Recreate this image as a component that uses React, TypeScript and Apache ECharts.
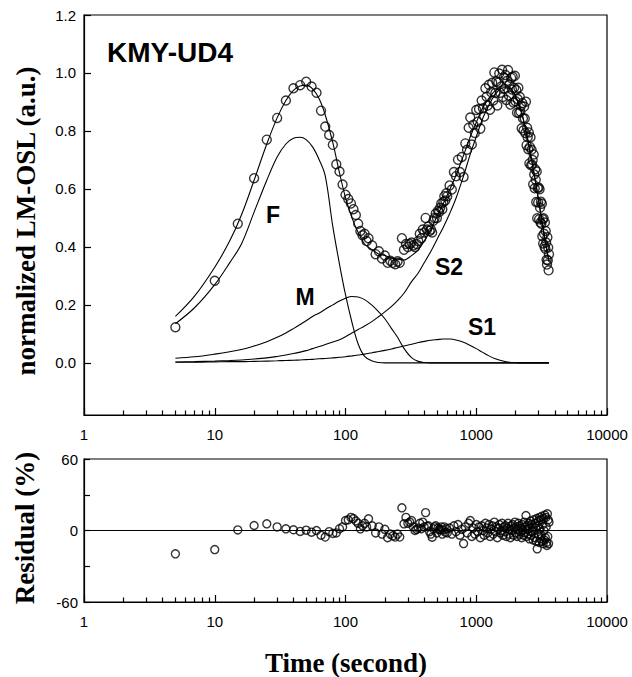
import { useEffect, useRef } from "react";
import * as echarts from "echarts";

// ---- measured LM-OSL data (time in s, normalized signal) ----
const obsTime = [
  5, 10, 15, 20, 25, 30, 35, 40, 45, 50, 55, 60, 65, 70, 75, 80, 85, 90, 95, 100,
  105, 110, 115, 120, 125, 130, 135, 140, 145, 150,
  160, 170, 180, 190, 200, 210, 220, 230, 240, 250, 260, 270, 280, 290, 300, 310, 320, 330, 340, 350,
  360, 370, 380, 390, 400, 410, 420, 430, 440, 450, 460, 470, 480, 490, 500, 510, 520, 530, 540, 550,
  560, 570, 580, 590, 600,
  625, 650, 675, 700, 725, 750, 775, 800, 825, 850, 875, 900, 925, 950, 975, 1000, 1025, 1050, 1075, 1100,
  1125, 1150, 1175, 1200, 1225, 1250, 1275, 1300, 1325, 1350, 1375, 1400, 1425, 1450, 1475, 1500, 1525, 1550, 1575, 1600,
  1625, 1650, 1675, 1700, 1725, 1750, 1775, 1800, 1825, 1850, 1875, 1900, 1925, 1950, 1975, 2000, 2025, 2050, 2075, 2100,
  2125, 2150, 2175, 2200, 2225, 2250, 2275, 2300, 2325, 2350, 2375, 2400, 2425, 2450, 2475, 2500, 2525, 2550, 2575, 2600,
  2625, 2650, 2675, 2700, 2725, 2750, 2775, 2800, 2825, 2850, 2875, 2900, 2925, 2950, 2975, 3000, 3025, 3050, 3075, 3100,
  3125, 3150, 3175, 3200, 3225, 3250, 3275, 3300, 3325, 3350, 3375, 3400, 3425, 3450, 3475, 3500, 3525, 3550, 3575, 3600,
];

const obsValue = [
  0.123, 0.283, 0.48, 0.637, 0.77, 0.845, 0.905, 0.947, 0.958, 0.97, 0.953, 0.932, 0.87, 0.815, 0.786, 0.752, 0.685, 0.66, 0.615, 0.58,
  0.565, 0.55, 0.53, 0.51, 0.48, 0.455, 0.44, 0.445, 0.42, 0.43,
  0.405, 0.375, 0.385, 0.36, 0.37, 0.345, 0.352, 0.345, 0.34, 0.35, 0.345, 0.43, 0.39, 0.41, 0.4, 0.41, 0.415, 0.405, 0.4, 0.41,
  0.42, 0.445, 0.43, 0.46, 0.45, 0.5, 0.46, 0.47, 0.455, 0.46, 0.45, 0.49, 0.5, 0.515, 0.5, 0.525, 0.52, 0.535, 0.55, 0.53,
  0.555, 0.575, 0.56, 0.585, 0.575,
  0.612, 0.598, 0.658, 0.644, 0.701, 0.658, 0.71, 0.641, 0.757, 0.735, 0.811, 0.846, 0.753, 0.821, 0.793, 0.872, 0.832, 0.876, 0.808, 0.905,
  0.878, 0.85, 0.947, 0.918, 0.888, 0.959, 0.873, 0.934, 0.966, 0.905, 1.002, 0.931, 0.971, 0.888, 0.967, 0.998, 0.932, 0.953, 1.011, 0.917,
  0.984, 0.945, 0.993, 0.907, 0.973, 1.01, 0.922, 0.96, 0.891, 0.983, 0.943, 0.987, 0.898, 0.949, 0.99, 0.902, 0.941, 0.863, 0.91, 0.949,
  0.862, 0.918, 0.867, 0.887, 0.809, 0.896, 0.844, 0.802, 0.884, 0.843, 0.793, 0.901, 0.751, 0.811, 0.778, 0.737, 0.795, 0.688, 0.745, 0.778,
  0.682, 0.735, 0.683, 0.7, 0.616, 0.719, 0.65, 0.602, 0.668, 0.632, 0.555, 0.66, 0.499, 0.603, 0.553, 0.605, 0.495, 0.599, 0.535, 0.484,
  0.556, 0.48, 0.549, 0.437, 0.495, 0.412, 0.499, 0.445, 0.401, 0.484, 0.394, 0.455, 0.415, 0.356, 0.339, 0.433, 0.354, 0.398, 0.319, 0.375,
];

// ---- residual (%) for each measured point ----
const residualValue = [
  -19.6, -16, 0.5, 4.2, 5.6, 3, 1.4, 0.6, -0.8, 0.3, -1.4, 0, -4, -5.5, -1, -2.5, -2, 1.5, 3, 8.4,
  9, 11, 10, 8, 6, 1.4, 4, 6, 3, 9.8,
  4, -2, 3, -3, 1, -6, -3, -4.5, -5.5, -3, -5.5, 19, 5.6, 11, 6, 7, 8.4, 3, 0, 1,
  2, 6, 1.5, 7, 3, 15, 3.5, 4, -1, -3, -5.6, 1.5, 3, 4, -2, 2, 0.5, 1, 3, -3,
  0.5, 3, -1.5, 1.5, -2,
  2, -3, 4, -1, 5, -4, 1, -11, 3, -2, 6, 8.4, -5, 2, -3, 5, -1, 3, -6, 4,
  0, -4, 6, 2, -2, 5, -5, 1, 4, -3, 7, -1, 3, -6, 2, 5, -2, 0, 6, -4,
  3, -1, 4, -5, 2, 6, -3, 1, -6, 4, 0, 5, -4, 2, 7, -2, 3, -5, 1, 6,
  -3, 4, -1, 2, -6, 5, 0, -4, 7, 3, -2, 12.6, -5, 4, 1, -3, 6, -7, 2, 8,
  -4, 5, -1, 3, -8, 9, 0, -6, 6, 2, -9, 10, -15.4, 4, -3, 8, -10, 11, 1, -7,
  9, -4, 12, -9, 5, -11, 10, 0, -8, 13, -6, 11, 3, -10, -12.6, 14, -5, 9, -11, 7,
];

// ---- fitted curve and components ----
const fitTime = [
  5, 7, 10, 13, 16, 20, 25, 30, 35, 40, 45, 50, 56, 63, 70, 80, 90, 100, 112, 125,
  140, 160, 180, 200, 225, 250, 280, 320, 360, 400, 450, 500, 560, 630, 700, 800, 900, 1000, 1120, 1250,
  1400, 1600, 1800, 2000, 2200, 2400, 2600, 2800, 3000, 3200, 3400, 3600,
];
const fitSum = [
  0.16, 0.23, 0.33, 0.42, 0.51, 0.63, 0.755, 0.845, 0.905, 0.94, 0.955, 0.958, 0.945, 0.91, 0.855, 0.76, 0.655, 0.57, 0.5, 0.45,
  0.41, 0.39, 0.375, 0.37, 0.362, 0.358, 0.355, 0.37, 0.39, 0.42, 0.46, 0.505, 0.55, 0.6, 0.647, 0.716, 0.78, 0.829, 0.879, 0.913,
  0.94, 0.955, 0.95, 0.92, 0.87, 0.8, 0.72, 0.64, 0.56, 0.48, 0.41, 0.35,
];
const compF = [
  0.135, 0.19, 0.27, 0.345, 0.41, 0.52, 0.63, 0.71, 0.755, 0.775, 0.778, 0.77, 0.745, 0.7, 0.645, 0.47, 0.34, 0.235, 0.14, 0.065,
  0.022, 0.006, 0.001, 0, 0, 0, 0, 0, 0, 0, 0, 0, 0, 0, 0, 0, 0, 0, 0, 0,
  0, 0, 0, 0, 0, 0, 0, 0, 0, 0, 0, 0,
];
const compM = [
  0.016, 0.021, 0.03, 0.038, 0.046, 0.058, 0.073, 0.088, 0.103, 0.118, 0.132, 0.145, 0.16, 0.172, 0.185, 0.2, 0.213, 0.223, 0.229, 0.227,
  0.218, 0.198, 0.175, 0.152, 0.118, 0.088, 0.05, 0.018, 0.005, 0.001, 0, 0, 0, 0, 0, 0, 0, 0, 0, 0,
  0, 0, 0, 0, 0, 0, 0, 0, 0, 0, 0, 0,
];
const compS1 = [
  0.002, 0.002, 0.003, 0.004, 0.004, 0.005, 0.006, 0.007, 0.008, 0.009, 0.01, 0.011, 0.012, 0.014, 0.015, 0.017, 0.019, 0.021, 0.024, 0.027,
  0.03, 0.035, 0.039, 0.043, 0.048, 0.053, 0.058, 0.064, 0.07, 0.074, 0.078, 0.08, 0.082, 0.082, 0.079, 0.071, 0.06, 0.049, 0.036, 0.024,
  0.014, 0.006, 0.002, 0.001, 0, 0, 0, 0, 0, 0, 0, 0,
];
const compS2 = [
  0.003, 0.004, 0.006, 0.008, 0.01, 0.013, 0.017, 0.022, 0.027, 0.032, 0.037, 0.042, 0.049, 0.056, 0.063, 0.072, 0.08, 0.09, 0.103, 0.115,
  0.127, 0.143, 0.16, 0.176, 0.195, 0.215, 0.24, 0.28, 0.31, 0.345, 0.385, 0.425, 0.468, 0.518, 0.568, 0.645, 0.72, 0.78, 0.843, 0.889,
  0.926, 0.949, 0.948, 0.919, 0.87, 0.8, 0.72, 0.64, 0.56, 0.48, 0.41, 0.35,
];

// ---- axis ticks ----
const xMajorTicks = [1, 10, 100, 1000, 10000];
const xMinorTicks = [
  2, 3, 4, 5, 6, 7, 8, 9, 20, 30, 40, 50, 60, 70, 80, 90,
  200, 300, 400, 500, 600, 700, 800, 900, 2000, 3000, 4000, 5000, 6000, 7000, 8000, 9000,
];
const yTicks = [0, 0.2, 0.4, 0.6, 0.8, 1.0, 1.2];
const resLabelTicks = [-60, 0, 60];
const resTicks = [-60, -30, 0, 30, 60];

const SANS = '"Liberation Sans", Arial, sans-serif';
const SERIF = '"Liberation Serif", "Times New Roman", serif';

function zip(xs: number[], ys: number[]) {
  return xs.map((x, i) => [x, ys[i]]);
}

export default function App() {
  const ref = useRef<HTMLDivElement>(null);

  useEffect(() => {
    const chart = echarts.init(ref.current!, null, { renderer: "svg" });

    // axis with line + labels
    const mainX = (gridIndex: number) => ({
      type: "log",
      logBase: 10,
      gridIndex,
      min: 1,
      max: 10000,
      position: "bottom",
      offset: 0,
      axisLine: { show: true, onZero: false, lineStyle: { color: "#000", width: 1.2 } },
      axisTick: { show: false },
      axisLabel: {
        show: true,
        customValues: xMajorTicks,
        margin: 12,
        fontSize: 15,
        color: "#000",
        fontFamily: SANS,
        formatter: (v: number) => String(Math.round(v)),
      },
      splitLine: { show: false },
    });
    // tick-only axes
    const tickX = (gridIndex: number, values: number[], length: number) => ({
      type: "log",
      logBase: 10,
      gridIndex,
      min: 1,
      max: 10000,
      position: "bottom",
      offset: 0,
      axisLine: { show: false, onZero: false },
      axisTick: { show: true, inside: true, length, customValues: values, lineStyle: { color: "#000", width: 1.2 } },
      axisLabel: { show: false },
      splitLine: { show: false },
    });
    const tickY = (gridIndex: number, min: number, max: number, values: number[], length: number) => ({
      type: "value",
      gridIndex,
      min,
      max,
      position: "left",
      offset: 0,
      axisLine: { show: false, onZero: false },
      axisTick: { show: true, inside: true, length, customValues: values, lineStyle: { color: "#000", width: 1.2 } },
      axisLabel: { show: false },
      splitLine: { show: false },
    });

    const lineSeries = (name: string, ys: number[]) => ({
      name,
      type: "line",
      xAxisIndex: 0,
      yAxisIndex: 0,
      data: zip(fitTime, ys),
      showSymbol: false,
      symbol: "none",
      smooth: 0.35,
      lineStyle: { color: "#000", width: 1.1 },
      z: 3,
    });

    const option = {
      animation: false,
      backgroundColor: "#fff",
      textStyle: { fontFamily: SANS },
      grid: [
        { left: 84, top: 15, width: 523, height: 400, show: true, borderColor: "#000", borderWidth: 1.2, backgroundColor: "transparent" },
        { left: 84, top: 459, width: 523, height: 143, show: true, borderColor: "#000", borderWidth: 1.2, backgroundColor: "transparent" },
      ],
      xAxis: [
        mainX(0),
        tickX(0, xMajorTicks, 7),
        tickX(0, xMinorTicks, 4.5),
        mainX(1),
        tickX(1, xMajorTicks, 7),
        tickX(1, xMinorTicks, 4.5),
      ],
      yAxis: [
        {
          type: "value",
          gridIndex: 0,
          min: -0.18,
          max: 1.2,
          position: "left",
          axisLine: { show: true, onZero: false, lineStyle: { color: "#000", width: 1.2 } },
          axisTick: { show: false },
          axisLabel: {
            customValues: yTicks,
            margin: 8,
            fontSize: 15,
            color: "#000",
            fontFamily: SANS,
            formatter: (v: number) => v.toFixed(1),
          },
          splitLine: { show: false },
        },
        tickY(0, -0.18, 1.2, yTicks, 7),
        {
          type: "value",
          gridIndex: 1,
          min: -60,
          max: 60,
          position: "left",
          axisLine: { show: true, onZero: false, lineStyle: { color: "#000", width: 1.2 } },
          axisTick: { show: false },
          axisLabel: {
            customValues: resLabelTicks,
            margin: 6,
            fontSize: 15,
            color: "#000",
            fontFamily: SANS,
            formatter: (v: number) => String(v),
          },
          splitLine: { show: false },
        },
        tickY(1, -60, 60, resTicks, 6),
      ],
      series: [
        {
          name: "measured",
          type: "scatter",
          xAxisIndex: 0,
          yAxisIndex: 0,
          data: zip(obsTime, obsValue),
          symbol: "circle",
          symbolSize: 9,
          itemStyle: { color: "rgba(255,255,255,0)", borderColor: "#000", borderWidth: 1.4 },
          z: 2,
        },
        lineSeries("fit", fitSum),
        lineSeries("F", compF),
        lineSeries("M", compM),
        lineSeries("S1", compS1),
        lineSeries("S2", compS2),
        {
          name: "residual",
          type: "scatter",
          xAxisIndex: 3,
          yAxisIndex: 2,
          data: zip(obsTime, residualValue),
          symbol: "circle",
          symbolSize: 8,
          itemStyle: { color: "rgba(255,255,255,0)", borderColor: "#000", borderWidth: 1.4 },
          markLine: {
            silent: true,
            symbol: ["none", "none"],
            label: { show: false },
            lineStyle: { color: "#000", width: 1, type: "solid" },
            data: [{ yAxis: 0 }],
          },
        },
      ],
      graphic: [
        {
          type: "text",
          x: 107,
          y: 52,
          style: { text: "KMY-UD4", font: `bold 28px ${SANS}`, fill: "#000", align: "left", verticalAlign: "middle" },
        },
        { type: "text", x: 273, y: 215, style: { text: "F", font: `bold 23px ${SANS}`, fill: "#000", align: "center", verticalAlign: "middle" } },
        { type: "text", x: 305, y: 297, style: { text: "M", font: `bold 23px ${SANS}`, fill: "#000", align: "center", verticalAlign: "middle" } },
        { type: "text", x: 449, y: 267, style: { text: "S2", font: `bold 23px ${SANS}`, fill: "#000", align: "center", verticalAlign: "middle" } },
        { type: "text", x: 482, y: 327, style: { text: "S1", font: `bold 23px ${SANS}`, fill: "#000", align: "center", verticalAlign: "middle" } },
        {
          type: "text",
          x: 26,
          y: 221,
          rotation: Math.PI / 2,
          style: { text: "normalized LM-OSL (a.u.)", font: `bold 27px ${SERIF}`, fill: "#000", align: "center", verticalAlign: "middle" },
        },
        {
          type: "text",
          x: 25,
          y: 528,
          rotation: Math.PI / 2,
          style: { text: "Residual (%)", font: `bold 27px ${SERIF}`, fill: "#000", align: "center", verticalAlign: "middle" },
        },
        {
          type: "text",
          x: 346,
          y: 663,
          style: { text: "Time (second)", font: `bold 27px ${SERIF}`, fill: "#000", align: "center", verticalAlign: "middle" },
        },
      ],
    };

    chart.setOption(option as any);
    return () => chart.dispose();
  }, []);

  return (
    <div
      ref={ref}
      style={{ position: "absolute", left: 0, top: 0, width: 632, height: 677, background: "#fff" }}
    />
  );
}
